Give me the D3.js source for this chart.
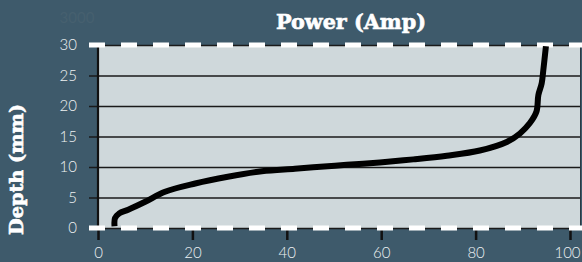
<!DOCTYPE html>
<html>
<head>
<meta charset="utf-8">
<script src="https://cdn.jsdelivr.net/npm/d3@7"></script>
<style>
  html, body { margin: 0; padding: 0; background: #3e5a6b; }
  svg { display: block; }
</style>
</head>
<body>
<div id="chart"></div>
<script>
// data
var power = [3.5, 3.6, 4.5, 6.4, 10, 14.2, 20.6, 27.5, 34.7, 41.7, 45.6, 52.7, 59.7, 66.8, 73.9, 80.9, 86.6, 89.4, 91.5, 92.9, 93.3, 94.0, 94.35, 94.9];
var depth = [0.3, 1.6, 2.4, 3.0, 4.3, 5.95, 7.3, 8.4, 9.3, 9.7, 9.95, 10.35, 10.75, 11.25, 11.85, 12.7, 14.1, 15.5, 17.2, 19.1, 21.8, 23.7, 25.9, 29.8];
var xTicks = [0, 20, 40, 60, 80, 100];
var yTicks = [0, 5, 10, 15, 20, 25, 30];

var width = 582, height = 262;
var bg = '#3e5a6b', plotBg = '#cfd8db';

var svg = d3.select('#chart').append('svg')
    .attr('width', width)
    .attr('height', height);

svg.append('rect').attr('width', width).attr('height', height).attr('fill', bg);

var x = d3.scaleLinear().domain([0, 100]).range([98, 570]);
var y = d3.scaleLinear().domain([0, 30]).range([228, 45]);

// plot area
svg.append('rect')
    .attr('x', x(0)).attr('y', y(30))
    .attr('width', 580 - x(0)).attr('height', y(0) - y(30))
    .attr('fill', plotBg);
svg.append('line')
    .attr('x1', 580.5).attr('x2', 580.5)
    .attr('y1', y(30)).attr('y2', y(0))
    .attr('stroke', '#2a3a44').attr('stroke-width', 1);

// y axis with grid lines
var yAxis = svg.append('g')
    .attr('transform', 'translate(580,0)')
    .call(d3.axisLeft(y).tickValues(yTicks).tickSize(580 - 89).tickPadding(12));
yAxis.select('.domain').remove();
yAxis.selectAll('line').attr('stroke', '#1a1a1a').attr('stroke-width', 1.6);
yAxis.selectAll('text')
    .attr('fill', '#eef2f3')
    .style('font-family', 'Lato, "Open Sans", sans-serif')
    .style('font-weight', 300)
    .style('font-size', '15px');

// x axis
var xAxis = svg.append('g')
    .attr('transform', 'translate(0,' + y(0) + ')')
    .call(d3.axisBottom(x).tickValues(xTicks).tickSize(12).tickPadding(7));
xAxis.select('.domain').remove();
xAxis.selectAll('line').attr('stroke', '#111').attr('stroke-width', 2.5);
xAxis.selectAll('text')
    .attr('fill', '#eef2f3')
    .attr('dx', function (d) { return d === 100 ? -3 : 0; })
    .style('font-family', 'Lato, "Open Sans", sans-serif')
    .style('font-weight', 300)
    .style('font-size', '15px');

// left axis line
svg.append('line')
    .attr('x1', x(0)).attr('x2', x(0))
    .attr('y1', y(30)).attr('y2', y(0))
    .attr('stroke', '#111').attr('stroke-width', 2.2);

// dashed borders top and bottom
[30, 0].forEach(function (v) {
    svg.append('line')
        .attr('x1', 89).attr('x2', width)
        .attr('y1', y(v)).attr('y2', y(v))
        .attr('stroke', '#ffffff').attr('stroke-width', 5)
        .attr('stroke-dasharray', '16,16');
});

// curve
var pts = power.map(function (p, i) { return [p, depth[i]]; });
var line = d3.line()
    .x(function (d) { return x(d[0]); })
    .y(function (d) { return y(d[1]); })
    .curve(d3.curveCatmullRom.alpha(0.5));
svg.append('path')
    .datum(pts)
    .attr('d', line)
    .attr('fill', 'none')
    .attr('stroke', '#000')
    .attr('stroke-width', 6)
    .attr('stroke-linejoin', 'round');

// faint leftover label
svg.append('text')
    .attr('x', 77).attr('y', 23)
    .attr('text-anchor', 'middle')
    .attr('fill', '#46606f')
    .style('font-family', 'Lato, sans-serif')
    .style('font-size', '15px')
    .text('3000');

// titles
svg.append('text')
    .attr('x', 351).attr('y', 29)
    .attr('text-anchor', 'middle')
    .attr('fill', '#ffffff')
    .attr('stroke', '#ffffff')
    .attr('stroke-width', 0.6)
    .attr('textLength', 150)
    .attr('lengthAdjust', 'spacingAndGlyphs')
    .style('font-family', '"DejaVu Serif", serif')
    .style('font-weight', 'bold')
    .style('font-size', '20px')
    .text('Power (Amp)');

svg.append('text')
    .attr('transform', 'translate(23,169.5) rotate(-90)')
    .attr('text-anchor', 'middle')
    .attr('fill', '#ffffff')
    .attr('stroke', '#ffffff')
    .attr('stroke-width', 0.6)
    .attr('textLength', 131)
    .attr('lengthAdjust', 'spacingAndGlyphs')
    .style('font-family', '"DejaVu Serif", serif')
    .style('font-weight', 'bold')
    .style('font-size', '19px')
    .text('Depth (mm)');
</script>
</body>
</html>
